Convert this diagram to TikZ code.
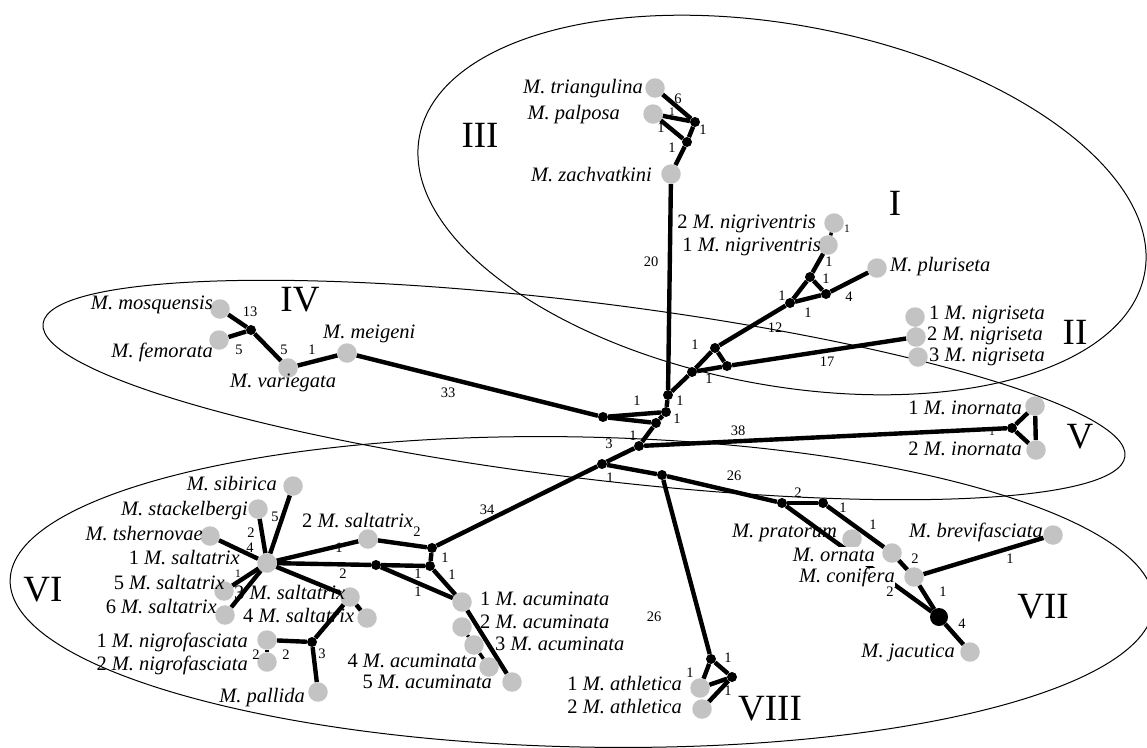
\documentclass[tikz,border=0pt]{standalone}
\usepackage{fontspec}
\setmainfont{Liberation Serif}
\usetikzlibrary{backgrounds}
\definecolor{nodegray}{RGB}{195,195,195}
\newcommand{\Msp}[1]{\textit{M. #1}}
\tikzset{
  hap/.style={circle, fill=nodegray, minimum size=19.5pt, inner sep=0pt},
  mv/.style={circle, fill=black, minimum size=10pt, inner sep=0pt},
  bigmv/.style={circle, fill=black, minimum size=18pt, inner sep=0pt},
  edge/.style={line width=4.4pt},
  stub/.style={line width=3.4pt},
  ell/.style={line width=1pt},
  sp/.style={font=\fontsize{20.5}{24}\selectfont, inner sep=0pt, text height=14.5pt, text depth=4.5pt},
  num/.style={font=\fontsize{14.5}{16}\selectfont, inner sep=0pt},
  sml/.style={font=\fontsize{11.5}{13}\selectfont, inner sep=0pt},
  grp/.style={font=\fontsize{37}{42}\selectfont, inner sep=0pt},
}
\begin{document}
\begin{tikzpicture}[x=1pt,y=-1pt]
\useasboundingbox (0,0) rectangle (1147,747);
% ---------- haplotype circles and median vectors ----------
% III
\node[hap] (tri) at (655,88) {};
\node[hap] (pal) at (653,114) {};
\node[mv] (a1) at (695,122) {};
\node[mv] (a2) at (687,142) {};
\node[hap] (zac) at (671,174) {};
% centre
\node[mv] (c1) at (668,395) {};
\node[mv] (c2) at (666,412) {};
\node[mv] (c3) at (656,423) {};
\node[mv] (c4) at (639,446) {};
\node[mv] (c5) at (602,464) {};
\node[mv] (c6) at (603,417) {};
\node[mv] (c7) at (662,475) {};
% I / II
\node[mv] (d1) at (692,372) {};
\node[mv] (d2) at (715,348) {};
\node[mv] (d3) at (727,366) {};
\node[mv] (d4) at (790,303) {};
\node[mv] (d5) at (810,277) {};
\node[mv] (d6) at (826,294) {};
\node[hap] (nv1) at (828,245) {};
\node[hap] (nv2) at (834,223) {};
\node[hap] (plu) at (877,268) {};
\node[hap] (ns1) at (915,317) {};
\node[hap] (ns2) at (916,337) {};
\node[hap] (ns3) at (918,357) {};
% IV
\node[hap] (mos) at (220,309) {};
\node[mv] (e1) at (251,330) {};
\node[hap] (fem) at (219,340) {};
\node[hap] (var) at (288,368) {};
\node[hap] (mei) at (347,353) {};
% V
\node[mv] (in0) at (1012,428) {};
\node[hap] (in1) at (1035,406) {};
\node[hap] (in2) at (1036,450) {};
% VI
\node[hap] (s1) at (267,563) {};
\node[hap] (sib) at (293,486) {};
\node[hap] (sta) at (258,509) {};
\node[hap] (tsh) at (210,536) {};
\node[hap] (sal5) at (224,591) {};
\node[hap] (sal6) at (225,615) {};
\node[hap] (sal3) at (350,597) {};
\node[hap] (sal4) at (367,618) {};
\node[hap] (nf1) at (267,640) {};
\node[hap] (nf2) at (267,662) {};
\node[mv] (n1) at (312,642) {};
\node[hap] (pld) at (318,692) {};
\node[hap] (sal2) at (368,539) {};
\node[mv] (p1) at (432,548) {};
\node[mv] (p2) at (430,566) {};
\node[mv] (p3) at (376,565) {};
\node[hap] (ac1) at (462,602) {};
\node[hap] (ac2) at (462,627) {};
\node[hap] (ac3) at (474,645) {};
\node[hap] (ac4) at (489,667) {};
\node[hap] (ac5) at (512,682) {};
% VII
\node[mv] (q1) at (782,503) {};
\node[mv] (q2) at (823,503) {};
\node[hap] (pra) at (852,539) {};
\node[hap] (orn) at (892,553) {};
\node[hap] (con) at (914,577) {};
\node[hap] (bre) at (1053,535) {};
\node[bigmv] (jj) at (939,617) {};
\node[hap] (jac) at (970,652) {};
% VIII
\node[mv] (k1) at (711,659) {};
\node[mv] (k2) at (732,677) {};
\node[hap] (at1) at (700,688) {};
\node[hap] (at2) at (702,709) {};

% ---------- species names ----------
\node[sp, anchor=east] (tri-t) at (643,88) {\Msp{triangulina}};
\node[sp, anchor=east] (pal-t) at (620,114) {\Msp{palposa}};
\node[sp, anchor=east] (zac-t) at (652,176) {\Msp{zachvatkini}};
\node[sp, anchor=east] (nv2-t) at (816,223) {2 \Msp{nigriventris}};
\node[sp, anchor=east] (nv1-t) at (821,246) {1 \Msp{nigriventris}};
\node[sp, anchor=west] (plu-t) at (890,266) {\Msp{pluriseta}};
\node[sp, anchor=west] (ns1-t) at (929,314) {1 \Msp{nigriseta}};
\node[sp, anchor=west] (ns2-t) at (927,335) {2 \Msp{nigriseta}};
\node[sp, anchor=west] (ns3-t) at (929,356) {3 \Msp{nigriseta}};
\node[sp, anchor=east] (mos-t) at (213,304) {\Msp{mosquensis}};
\node[sp, anchor=east] (fem-t) at (213,352) {\Msp{femorata}};
\node[sp, anchor=west] (var-t) at (230,382) {\Msp{variegata}};
\node[sp, anchor=west] (mei-t) at (323,333) {\Msp{meigeni}};
\node[sp, anchor=east] (in1-t) at (1022,409) {1 \Msp{inornata}};
\node[sp, anchor=east] (in2-t) at (1022,450) {2 \Msp{inornata}};
\node[sp, anchor=east] (sib-t) at (277,485) {\Msp{sibirica}};
\node[sp, anchor=east] (sta-t) at (248,510) {\Msp{stackelbergi}};
\node[sp, anchor=east] (tsh-t) at (203,535) {\Msp{tshernovae}};
\node[sp, anchor=east] (sal1-t) at (240,559) {1 \Msp{saltatrix}};
\node[sp, anchor=east] (sal5-t) at (225,584) {5 \Msp{saltatrix}};
\node[sp, anchor=east] (sal6-t) at (217,608) {6 \Msp{saltatrix}};
\node[sp, anchor=west] (sal2-t) at (302,522) {2 \Msp{saltatrix}};
\node[sp, anchor=west] (sal3-t) at (234,594) {3 \Msp{saltatrix}};
\node[sp, anchor=west] (sal4-t) at (243,617) {4 \Msp{saltatrix}};
\node[sp, anchor=east] (nf1-t) at (248,642) {1 \Msp{nigrofasciata}};
\node[sp, anchor=east] (nf2-t) at (248,665) {2 \Msp{nigrofasciata}};
\node[sp, anchor=east] (pld-t) at (305,697) {\Msp{pallida}};
\node[sp, anchor=west] (ac1-t) at (480,600) {1 \Msp{acuminata}};
\node[sp, anchor=west] (ac2-t) at (480,623) {2 \Msp{acuminata}};
\node[sp, anchor=west] (ac3-t) at (495,645) {3 \Msp{acuminata}};
\node[sp, anchor=east] (ac4-t) at (477,662) {4 \Msp{acuminata}};
\node[sp, anchor=east] (ac5-t) at (492,683) {5 \Msp{acuminata}};
\node[sp, anchor=east] (pra-t) at (837,532) {\Msp{pratorum}};
\node[sp, anchor=east, fill=white] (orn-t) at (875,556) {\Msp{ornata}};
\node[sp, anchor=east, fill=white] (con-t) at (895,577) {\Msp{conifera}};
\node[sp, anchor=east] (bre-t) at (1043,532) {\Msp{brevifasciata}};
\node[sp, anchor=east] (jac-t) at (955,652) {\Msp{jacutica}};
\node[sp, anchor=east] (at1-t) at (682,685) {1 \Msp{athletica}};
\node[sp, anchor=east] (at2-t) at (682,708) {2 \Msp{athletica}};

% ---------- group numerals ----------
\node[grp] (gI) at (895,203) {I};
\node[grp] (gII) at (1075,332) {II};
\node[grp] (gIII) at (480,135) {III};
\node[grp] (gIV) at (300,300) {IV};
\node[grp] (gV) at (1080,437) {V};
\node[grp] (gVI) at (43,590) {VI};
\node[grp] (gVII) at (1043,607) {VII};
\node[grp] (gVIII) at (770,709) {VIII};

% ---------- mutation counts ----------
\node[num] (m01) at (678,99) {6};
\node[sml] (m02) at (672,112) {1};
\node[num] (m03) at (661,128) {1};
\node[num] (m04) at (703,130) {1};
\node[num] (m05) at (672,148) {1};
\node[num] (m06) at (651,262) {20};
\node[num] (m07) at (680,401) {1};
\node[num] (m08) at (637,401) {1};
\node[num] (m09) at (677,419) {1};
\node[num] (m10) at (633,436) {1};
\node[num] (m11) at (609,444) {3};
\node[num] (m12) at (610,478) {1};
\node[num] (m13) at (738,431) {38};
\node[num] (m14) at (448,393) {33};
\node[num] (m15) at (487,510) {34};
\node[num] (m16) at (734,476) {26};
\node[num] (m17) at (654,617) {26};
\node[num] (m18) at (695,345) {1};
\node[num] (m19) at (709,379) {1};
\node[num] (m20) at (775,328) {12};
\node[num] (m21) at (827,362) {17};
\node[num] (m22) at (782,296) {1};
\node[num] (m23) at (808,313) {1};
\node[num] (m24) at (826,279) {1};
\node[num] (m25) at (829,262) {1};
\node[sml] (m26) at (847,229) {1};
\node[num] (m27) at (849,297) {4};
\node[num] (m28) at (250,312) {13};
\node[num] (m29) at (239,350) {5};
\node[num] (m30) at (284,350) {5};
\node[num] (m31) at (312,350) {1};
\node[sml] (m32) at (992,432) {1};
\node[num] (m33) at (275,517) {5};
\node[num] (m34) at (251,533) {2};
\node[num] (m35) at (250,548) {4};
\node[sml] (m36) at (238,574) {1};
\node[num] (m37) at (339,548) {1};
\node[num] (m38) at (417,532) {2};
\node[num] (m39) at (343,574) {2};
\node[num] (m40) at (286,655) {2};
\node[num] (m41) at (256,655) {2};
\node[num] (m42) at (322,654) {3};
\node[num] (m43) at (418,574) {1};
\node[num] (m44) at (418,592) {1};
\node[num] (m45) at (445,558) {1};
\node[num] (m46) at (452,575) {1};
\node[num] (m47) at (798,493) {2};
\node[num] (m48) at (843,508) {1};
\node[num] (m49) at (873,525) {1};
\node[num] (m50) at (915,559) {2};
\node[num] (m51) at (1010,559) {1};
\node[num] (m52) at (943,592) {1};
\node[num] (m53) at (962,624) {4};
\node[num] (m54) at (890,592) {2};
\node[num] (m55) at (690,673) {1};
\node[num] (m56) at (728,658) {1};
\node[num] (m57) at (728,691) {1};

\begin{pgfonlayer}{background}
% ---------- group outlines ----------
\draw[ell, rotate around={-10.75:(782,205)}] (782,205) ellipse [x radius=369, y radius=180];
\draw[ell, rotate around={-7:(584,390)}] (584,390) ellipse [x radius=545, y radius=88];
\draw[ell, rotate around={-1.2:(582,592)}] (582,592) ellipse [x radius=572, y radius=155];
% ---------- network edges ----------
\draw[edge] (tri) -- (a1);
\draw[edge] (pal) -- (a1);
\draw[edge] (pal) -- (a2);
\draw[edge] (a1) -- (a2);
\draw[edge] (a2) -- (zac);
\draw[edge] (zac) -- (c1);
\draw[edge] (c1) -- (c2);
\draw[edge] (c1) -- (d1);
\draw[edge] (c6) -- (c2);
\draw[edge] (c6) -- (c3);
\draw[edge] (c2) -- (c3);
\draw[edge] (c3) -- (c4);
\draw[edge] (c4) -- (c5);
\draw[edge] (c5) -- (p1);
\draw[edge] (c5) -- (c7);
\draw[edge] (c4) -- (in0);
\draw[edge] (in0) -- (in1);
\draw[edge] (in0) -- (in2);
\draw[edge] (in1) -- (in2);
\draw[edge] (mei) -- (c6);
\draw[edge] (mei) -- (var);
\draw[edge] (var) -- (e1);
\draw[edge] (e1) -- (mos);
\draw[edge] (e1) -- (fem);
\draw[edge] (d1) -- (d2);
\draw[edge] (d1) -- (d3);
\draw[edge] (d2) -- (d3);
\draw[edge] (d2) -- (d4);
\draw[edge] (d3) -- (ns2);
\draw[edge] (d4) -- (d5);
\draw[edge] (d4) -- (d6);
\draw[edge] (d5) -- (d6);
\draw[edge] (d5) -- (nv1);
\draw[stub] (nv1) -- (nv2);
\draw[edge] (d6) -- (plu);
\draw[stub] (ns1) -- (ns2);
\draw[edge] (c7) -- (q1);
\draw[edge] (q1) -- (q2);
\draw[edge] (q1) -- (jj);
\draw[edge] (q2) -- (orn);
\draw[edge] (orn) -- (con);
\draw[edge] (con) -- (bre);
\draw[edge] (con) -- (jj);
\draw[edge] (jj) -- (jac);
\draw[edge] (c7) -- (k1);
\draw[edge] (k1) -- (at1);
\draw[edge] (k1) -- (k2);
\draw[edge] (k2) -- (at1);
\draw[edge] (k2) -- (at2);
\draw[edge] (s1) -- (sib);
\draw[edge] (s1) -- (sta);
\draw[edge] (s1) -- (tsh);
\draw[edge] (s1) -- (sal5);
\draw[edge] (s1) -- (sal6);
\draw[edge] (s1) -- (sal2);
\draw[edge] (sal2) -- (p1);
\draw[edge] (s1) -- (p3);
\draw[edge] (s1) -- (sal3);
\draw[edge] (sal3) -- (sal4);
\draw[edge] (sal3) -- (n1);
\draw[edge] (n1) -- (nf1);
\draw[stub] (nf1) -- (nf2);
\draw[edge] (n1) -- (pld);
\draw[edge] (p3) -- (p2);
\draw[edge] (p3) -- (ac1);
\draw[edge] (p1) -- (p2);
\draw[edge] (p2) -- (ac1);
\draw[edge] (ac1) -- (ac5);
\draw[stub] (ac2) -- (ac3);
\draw[stub] (ac3) -- (ac4);
\end{pgfonlayer}
\end{tikzpicture}
\end{document}
